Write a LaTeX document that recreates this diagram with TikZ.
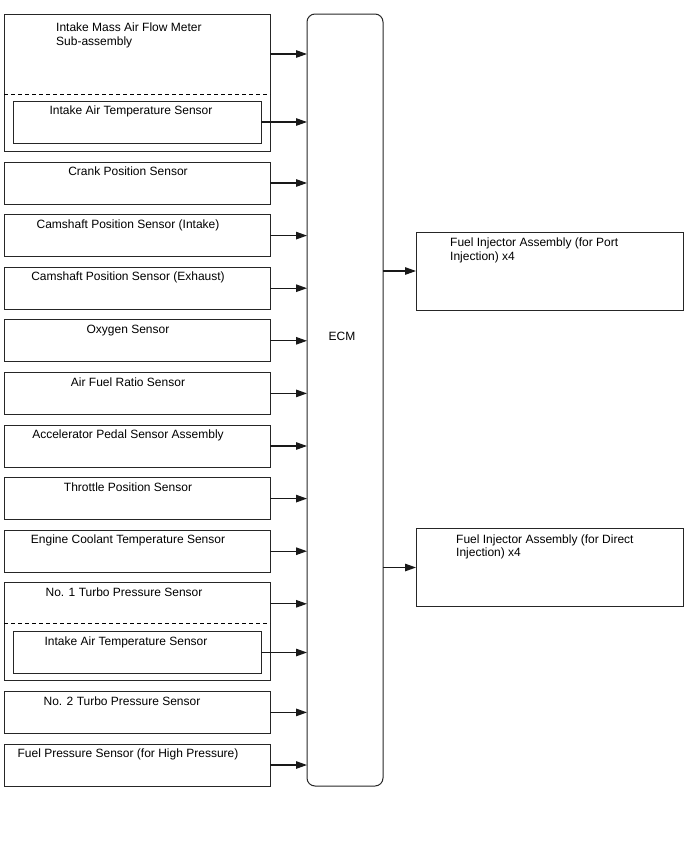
\documentclass[tikz,border=0pt]{standalone}
\usepackage{fontspec}
\setmainfont{Liberation Sans}
\usetikzlibrary{positioning,arrows.meta}
\tikzset{sbox/.style={draw=black!85,line width=1pt,outer sep=0pt,minimum width=266pt,minimum height=42pt,inner sep=0pt},
	 ibox/.style={draw=black!85,line width=1pt,outer sep=0pt,minimum width=248pt,minimum height=42pt,inner sep=0pt},
	 obox/.style={draw=black!85,line width=1pt,outer sep=0pt,minimum width=267pt,minimum height=78pt,inner sep=0pt,anchor=north west},
	 tag/.style={anchor=north,inner sep=0pt,yshift=-4.8pt,xshift=-9pt},
	 ltag/.style={anchor=north west,inner sep=0pt,align=left},
	 sig/.style={draw=black!90,line width=1.2pt,-{Triangle[length=11pt,width=7.5pt]}},
	 every node/.style={font=\fontsize{12}{13.5}\selectfont},
	 node distance = 10.6pt
	 }

\begin{document}
\begin{tikzpicture}[x=1pt,y=-1pt] % ECM inputs and outputs
	\useasboundingbox (0,0) rectangle (688,852);
	\node[sbox,anchor=north west,minimum height=137pt] (maf) at (4,14)
		[label={[ltag,xshift=52pt,yshift=-8.8pt]north west:Intake Mass Air Flow Meter\\Sub-assembly}] {};
	\node[ibox] (iat1) [above=8pt of maf.south] [label={[tag,yshift=0.3pt,xshift=3pt]north:Intake Air Temperature Sensor}] {};
	\node[sbox] (crank) [below=11pt of maf] [label={[tag]north:Crank Position Sensor}] {};
	\node[sbox] (camin) [below=of crank] [label={[tag]north:Camshaft Position Sensor (Intake)}] {};
	\node[sbox] (camex) [below=of camin] [label={[tag]north:Camshaft Position Sensor (Exhaust)}] {};
	\node[sbox] (oxs) [below=of camex] [label={[tag]north:Oxygen Sensor}] {};
	\node[sbox] (afs) [below=of oxs] [label={[tag]north:Air Fuel Ratio Sensor}] {};
	\node[sbox] (accel) [below=of afs] [label={[tag]north:Accelerator Pedal Sensor Assembly}] {};
	\node[sbox] (tps) [below=of accel] [label={[tag]north:Throttle Position Sensor}] {};
	\node[sbox] (ect) [below=of tps] [label={[tag]north:Engine Coolant Temperature Sensor}] {};
	\node[sbox,minimum height=98pt] (turbo1) [below=of ect] [label={[tag,xshift=-4pt]north:No. 1 Turbo Pressure Sensor}] {};
	\node[ibox] (iat2) [above=7.3pt of turbo1.south] [label={[tag,xshift=-2pt]north:Intake Air Temperature Sensor}] {};
	\node[sbox] (turbo2) [below=of turbo1] [label={[tag,xshift=-6pt]north:No. 2 Turbo Pressure Sensor}] {};
	\node[sbox] (fps) [below=of turbo2] [label={[tag]north:Fuel Pressure Sensor (for High Pressure)}] {};
	\node[draw=black!85,line width=1pt,outer sep=0pt,rounded corners=8pt,minimum width=76pt,minimum height=772pt,anchor=north west] (ecm)
		at ([xshift=37pt]maf.north east) [label={[yshift=64pt,xshift=-3pt]center:ECM}] {};
	\node[obox] (port) at (416,232) [label={[ltag,xshift=34pt,yshift=-6pt]north west:Fuel Injector Assembly (for Port\\Injection) x4}] {};
	\node[obox] (direct) at (416,528.5) [label={[ltag,xshift=40pt,yshift=-6pt]north west:Fuel Injector Assembly (for Direct\\Injection) x4}] {};
	\draw[dashed,dash pattern=on 4pt off 3pt,line width=0.9pt] ([yshift=-80pt]maf.north west) -- ([yshift=-80pt]maf.north east);
	\draw[dashed,dash pattern=on 4pt off 3pt,line width=0.9pt] ([yshift=-41pt]turbo1.north west) -- ([yshift=-41pt]turbo1.north east);
	\draw[sig] ([yshift=-40pt]maf.north east) -- ([yshift=-40pt]maf.north east -| ecm.west);
	\draw[sig] (iat1.east) -- (iat1.east -| ecm.west);
	\foreach \s in {crank,camin,camex,oxs,afs,accel,tps,ect,turbo2,fps}
		\draw[sig] (\s.east) -- (\s.east -| ecm.west);
	\draw[sig] ([yshift=-21pt]turbo1.north east) -- ([yshift=-21pt]turbo1.north east -| ecm.west);
	\draw[sig] (iat2.east) -- (iat2.east -| ecm.west);
	\draw[sig] (port.west -| ecm.east) -- (port.west);
	\draw[sig] (direct.west -| ecm.east) -- (direct.west);
\end{tikzpicture}
\end{document}
